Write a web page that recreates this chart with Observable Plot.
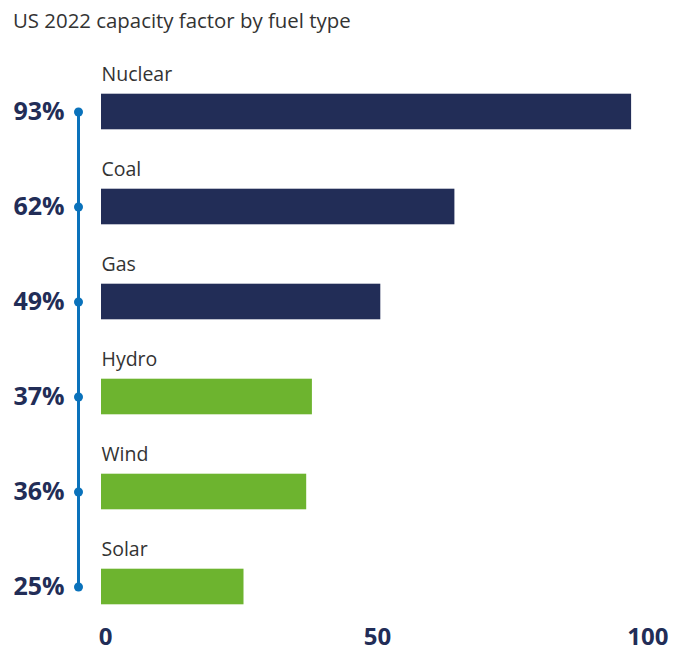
<!DOCTYPE html>
<html><head><meta charset="utf-8">
<script src="https://cdn.jsdelivr.net/npm/d3@7"></script>
<script src="https://cdn.jsdelivr.net/npm/@observablehq/plot@0.6"></script>
<style>
body{margin:0;background:#fff;font-family:"Open Sans",sans-serif;}
#title{height:40px;box-sizing:border-box;padding:7px 0 0 13px;font-size:20.4px;color:#333;line-height:26px;}
</style></head><body>
<div id="title">US 2022 capacity factor by fuel type</div>
<div id="chart"></div>
<script>
const fuels = ["Nuclear","Coal","Gas","Hydro","Wind","Solar"];
const factors = [93,62,49,37,36,25];
const groups = ["fossil","fossil","fossil","renewable","renewable","renewable"];
const tickValues = [0,50,100];

const data = fuels.map((f,i)=>({fuel:f, value:factors[i], group:groups[i]}));
const navy = "#222d57", green = "#6db42f", blue = "#0a72bb";

const axisStyle = {tickSize: 0, tickPadding: 5, fontSize: 24, fontWeight: "bold", fill: navy, tickFormat: d => String(d), label: null};

const chart = Plot.plot({
  width: 674, height: 612,
  marginTop: 0, marginBottom: 30, marginLeft: 0, marginRight: 0,
  style: {fontFamily: "Open Sans, sans-serif", overflow: "visible"},
  x: {domain: [0,100], range: [101,671], axis: null},
  y: {domain: fuels, range: [22.3, 594.7], padding: 0, axis: null},
  color: {domain: ["fossil","renewable"], range: [navy, green]},
  marks: [
    Plot.barX(data, {x: "value", y: "fuel", fill: "group", insetTop: 29.7, insetBottom: 29.7}),
    Plot.line(data, {x: 0, y: "fuel", dx: -23, stroke: blue, strokeWidth: 3}),
    Plot.dot(data, {x: 0, y: "fuel", dx: -23, r: 4.5, fill: blue}),
    Plot.text(data, {x: 0, y: "fuel", text: "fuel", textAnchor: "start", lineAnchor: "bottom", dy: -31.5, fontSize: 19.5, fill: "#333"}),
    Plot.text(data, {x: 0, y: "fuel", text: d => d.value + "%", textAnchor: "end", dx: -37, fontSize: 25, fontWeight: "bold", fill: navy}),
    Plot.axisX([tickValues[0]], {...axisStyle, dx: 4}),
    Plot.axisX([tickValues[1]], {...axisStyle, dx: -9}),
    Plot.axisX([tickValues[2]], {...axisStyle, dx: -3, textAnchor: "end"})
  ]
});
document.getElementById("chart").appendChild(chart);
</script></body></html>
